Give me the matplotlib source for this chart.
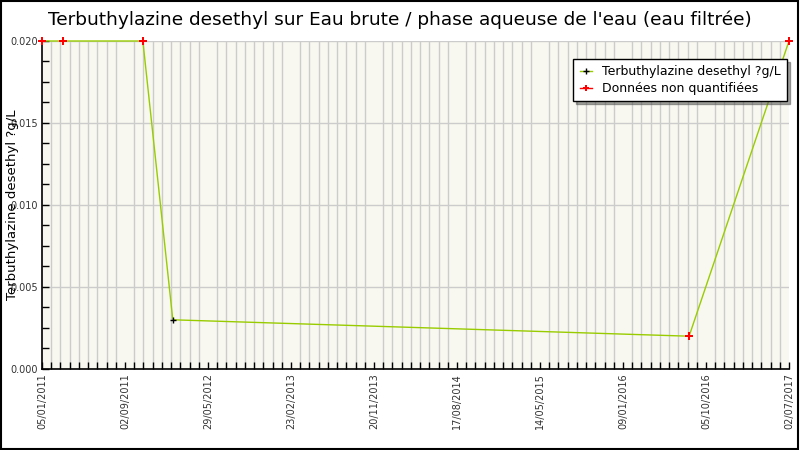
import matplotlib
matplotlib.use("Agg")
import matplotlib.pyplot as plt
import matplotlib.dates as mdates
from matplotlib.lines import Line2D
import numpy as np
from datetime import datetime

# ---- data ----
dates = ["2011-01-05", "2011-03-12", "2011-11-21", "2012-02-24", "2016-08-19", "2017-07-02"]
values = [0.020, 0.020, 0.020, 0.003, 0.002, 0.020]
non_quantified = [True, True, True, False, True, True]
tick_labels = ["05/01/2011", "02/09/2011", "29/05/2012", "23/02/2013", "20/11/2013",
               "17/08/2014", "14/05/2015", "09/01/2016", "05/10/2016", "02/07/2017"]
y_ticks = [0.000, 0.005, 0.010, 0.015, 0.020]

title = "Terbuthylazine desethyl sur Eau brute / phase aqueuse de l'eau (eau filtrée)"
ylabel = "Terbuthylazine desethyl ?g/L"
legend_labels = ["Terbuthylazine desethyl ?g/L", "Données non quantifiées"]

plt.rcParams['font.family'] = ['DejaVu Sans']

x = mdates.date2num([datetime.strptime(d, "%Y-%m-%d") for d in dates])
xmin, xmax = x[0], x[-1]

fig = plt.figure(figsize=(8, 4.5), dpi=100)
fig.patch.set_facecolor("white")
ax = fig.add_axes([0.0525, 0.18, 0.93375, 0.7289])
ax.set_facecolor("#F8F8F0")

line_color = "#99CC00"
ax.plot(x, values, color=line_color, lw=1.0, zorder=3, clip_on=False)
q = np.array(non_quantified)
xv = np.array(x); vv = np.array(values)
ax.plot(xv[~q], vv[~q], linestyle="none", marker="+", color="black", ms=4, mew=1.0,
        zorder=4, clip_on=False)
ax.plot(xv[q], vv[q], linestyle="none", marker="P", color="red", ms=5.5, mew=0,
        zorder=4, clip_on=False)

ax.set_xlim(xmin, xmax)
ax.set_ylim(0, 0.020)

major = np.linspace(xmin, xmax, len(tick_labels))
ax.set_xticks(major)
ax.set_xticklabels(tick_labels, rotation=90, fontsize=7, color="#333333")
ax.set_xticks(np.linspace(xmin, xmax, 82), minor=True)
ax.set_yticks(y_ticks)
ax.set_yticklabels(["%.3f" % v for v in y_ticks], fontsize=7, color="#333333")
ax.set_yticks(np.arange(0, 0.0201, 0.00125), minor=True)

ax.tick_params(axis="both", which="both", direction="in", color="black", width=1)
ax.tick_params(axis="both", which="major", length=5, pad=3)
ax.tick_params(axis="both", which="minor", length=5)
ax.tick_params(top=False, right=False, which="both")

ax.grid(True, axis="x", which="minor", color="#CCCCCC", lw=1.0, zorder=0)
ax.grid(True, axis="y", which="major", color="#CCCCCC", lw=1.0, zorder=0)
ax.set_axisbelow(True)

for s in ["top", "right"]:
    ax.spines[s].set_visible(False)
ax.spines["left"].set_linewidth(1.2)
ax.spines["bottom"].set_linewidth(1.2)

fig.text(0.5, 0.957, title, ha="center", va="center", fontsize=13.3, color="black")
fig.text(0.016, 0.545, ylabel, rotation=90, ha="center", va="center", fontsize=9.5, color="black")

h1 = Line2D([], [], color=line_color, lw=1, marker="+", mec="black", ms=4)
h2 = Line2D([], [], color="red", lw=1, marker="P", mec="red", mfc="red", ms=5, mew=0)
leg = ax.legend([h1, h2], legend_labels, loc="upper right", bbox_to_anchor=(0.9975, 0.945),
                fontsize=9, frameon=True, fancybox=False, shadow=True,
                handlelength=1.0, handletextpad=0.8, borderpad=0.5, borderaxespad=0.0,
                labelspacing=0.3)
leg.get_frame().set_edgecolor("black")
leg.get_frame().set_linewidth(1.0)
leg.get_frame().set_facecolor("white")

# outer border
fig.add_artist(plt.Rectangle((0.001, 0.002), 0.997, 0.996, transform=fig.transFigure,
                             fill=False, edgecolor="black", lw=1.5))

fig.savefig("out.png", dpi=100)
